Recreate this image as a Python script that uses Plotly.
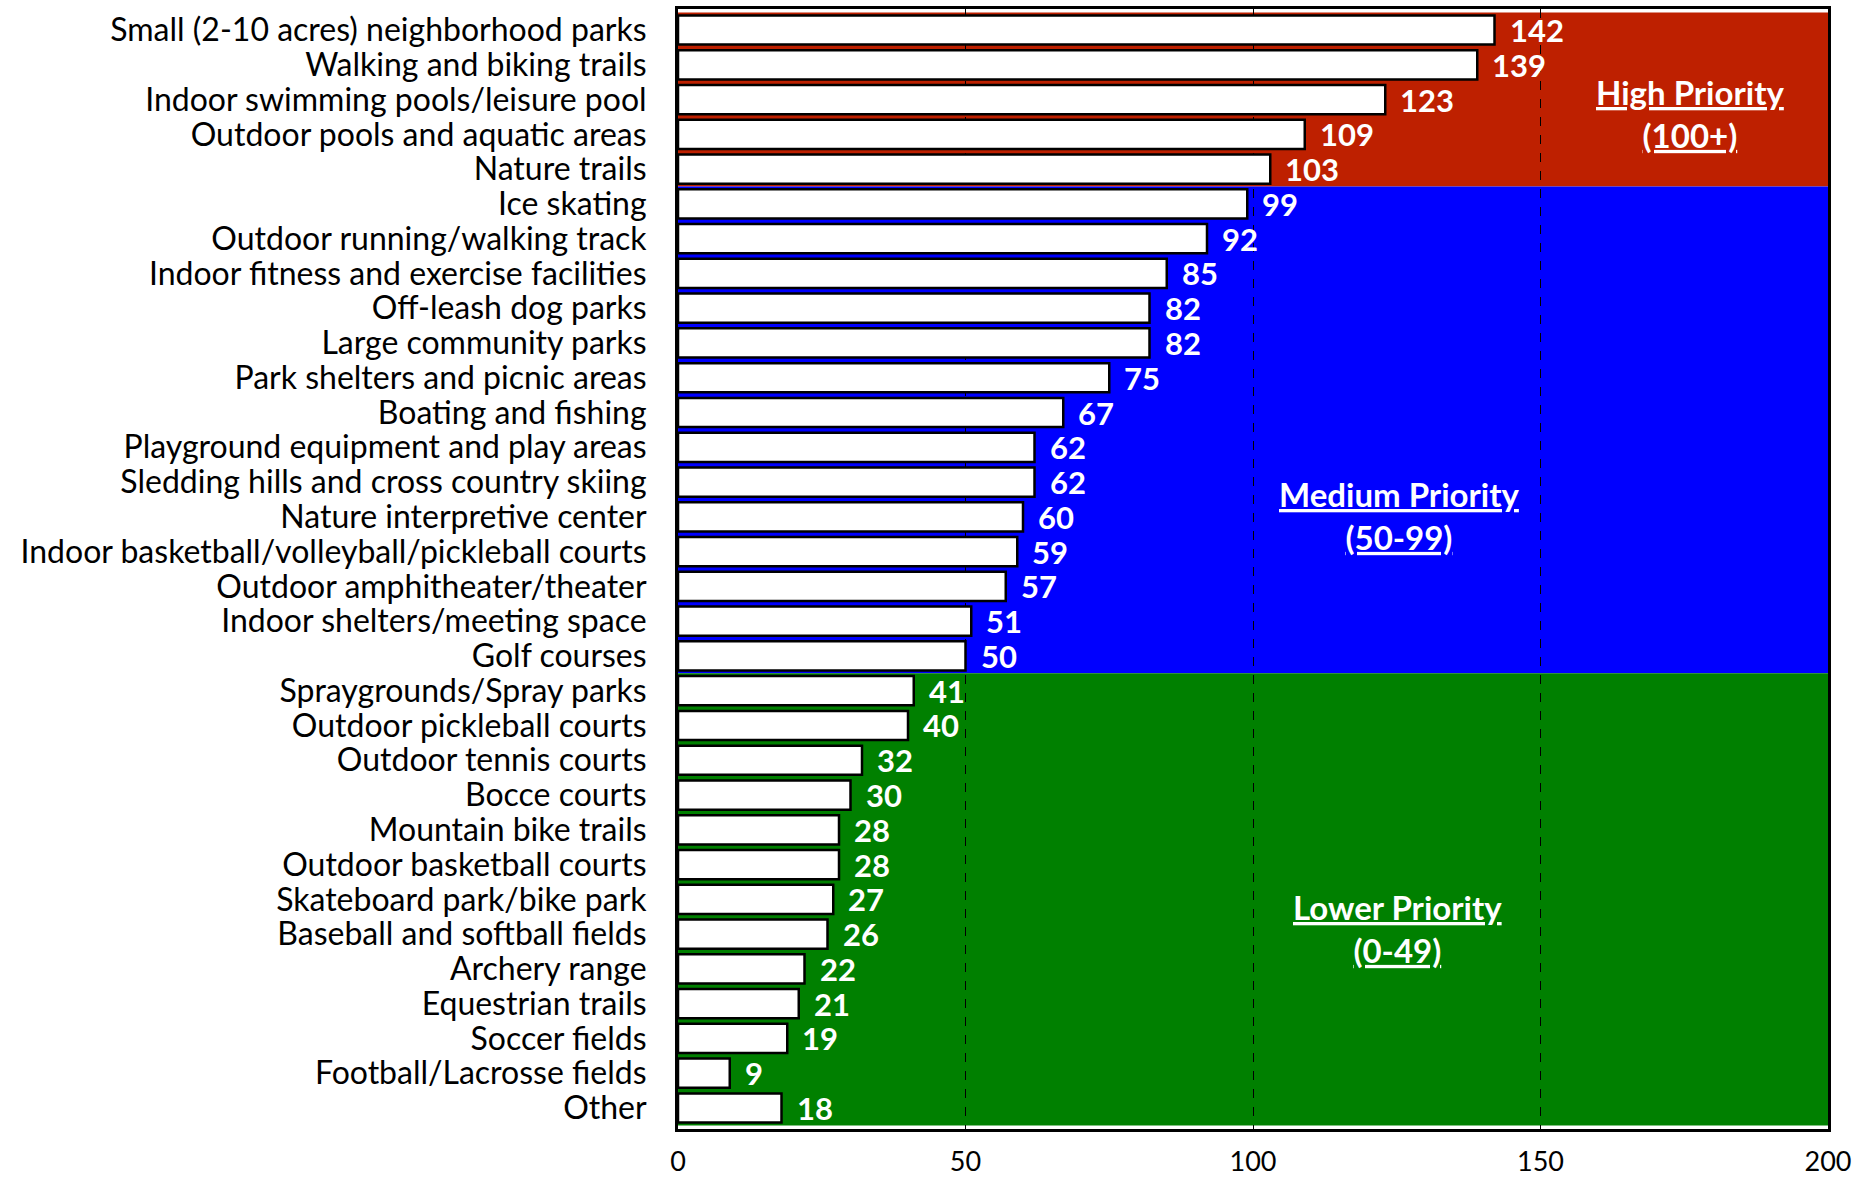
import plotly.graph_objects as go

categories = [
    "Small (2-10 acres) neighborhood parks",
    "Walking and biking trails",
    "Indoor swimming pools/leisure pool",
    "Outdoor pools and aquatic areas",
    "Nature trails",
    "Ice skating",
    "Outdoor running/walking track",
    "Indoor fitness and exercise facilities",
    "Off-leash dog parks",
    "Large community parks",
    "Park shelters and picnic areas",
    "Boating and fishing",
    "Playground equipment and play areas",
    "Sledding hills and cross country skiing",
    "Nature interpretive center",
    "Indoor basketball/volleyball/pickleball courts",
    "Outdoor amphitheater/theater",
    "Indoor shelters/meeting space",
    "Golf courses",
    "Spraygrounds/Spray parks",
    "Outdoor pickleball courts",
    "Outdoor tennis courts",
    "Bocce courts",
    "Mountain bike trails",
    "Outdoor basketball courts",
    "Skateboard park/bike park",
    "Baseball and softball fields",
    "Archery range",
    "Equestrian trails",
    "Soccer fields",
    "Football/Lacrosse fields",
    "Other",
]
values = [142, 139, 123, 109, 103, 99, 92, 85, 82, 82, 75, 67, 62, 62, 60, 59,
          57, 51, 50, 41, 40, 32, 30, 28, 28, 27, 26, 22, 21, 19, 9, 18]
x_ticks = [0, 50, 100, 150, 200]

# priority bands
band_labels = ["High Priority<br>(100+)", "Medium Priority<br>(50-99)", "Lower Priority<br>(0-49)"]
band_first = [0, 5, 19]
band_last = [4, 18, 31]
band_colors = ["#BE2000", "#0000FF", "#008000"]
band_label_x = [176, 125.4, 125.2]
band_label_y = [2.4, 13.95, 25.85]

FONT = "Lato"

fig = go.Figure()
fig.add_trace(go.Bar(
    y=categories, x=values, orientation="h",
    marker=dict(color="white", line=dict(color="black", width=2.5)),
    width=0.84, hoverinfo="x+y",
))

for cat, v in zip(categories, values):
    fig.add_annotation(x=v, y=cat, xref="x", yref="y", text=str(v),
                       showarrow=False, xanchor="left", xshift=13,
                       font=dict(family=FONT, size=31, color="white", weight="bold"))

for label, i0, i1, col, lx, ly in zip(band_labels, band_first, band_last,
                                       band_colors, band_label_x, band_label_y):
    fig.add_shape(type="rect", xref="x", yref="y", x0=0, x1=200,
                  y0=i0 - 0.5, y1=i1 + 0.5, fillcolor=col,
                  line=dict(width=0), layer="below")
    fig.add_annotation(x=lx, y=ly, xref="x", yref="y",
                       text="<u>" + label + "</u>", showarrow=False,
                       font=dict(family=FONT, size=33, color="white", weight="bold"))

fig.update_layout(
    width=1865, height=1177,
    margin=dict(l=678, r=37, t=9, b=48, autoexpand=False),
    paper_bgcolor="white", plot_bgcolor="rgba(0,0,0,0)",
    showlegend=False,
    font=dict(family=FONT, size=32, color="black"),
)
fig.update_xaxes(range=[0, 200], tickvals=x_ticks, showgrid=True,
                 gridcolor="black", griddash="dash", gridwidth=1,
                 showline=True, linecolor="black", linewidth=3, mirror=True,
                 zeroline=False, ticks="", tickfont=dict(size=27),
                 ticklabelstandoff=7, automargin=False)
fig.update_yaxes(autorange="reversed", showline=True, linecolor="black",
                 linewidth=3, mirror=True, ticks="", showgrid=False,
                 tickmode="array", tickvals=categories, ticktext=categories,
                 tickfont=dict(size=32), ticklabelstandoff=22, automargin=False)

fig.write_html("out.html", config={"displayModeBar": False},
               post_script="document.body.style.margin='0';document.body.style.overflow='hidden';")
